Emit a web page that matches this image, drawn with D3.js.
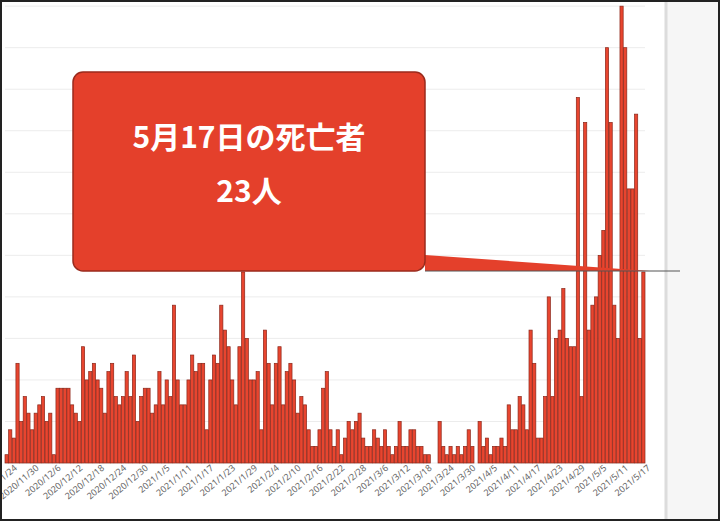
<!DOCTYPE html>
<html><head><meta charset="utf-8">
<script src="https://cdn.jsdelivr.net/npm/d3@7"></script>
<style>body{margin:0;background:#fff}svg{display:block}</style>
</head><body>
<script>
var startDate = "2020-11-23";
var deaths = [1,4,3,12,5,8,6,4,6,7,8,5,6,1,
  9,9,9,9,7,6,5,14,10,11,12,10,9,6,
  11,12,8,7,8,11,8,13,5,8,9,9,6,7,
  11,7,10,8,19,10,7,7,10,13,11,12,12,4,
  10,13,12,19,16,14,10,7,14,23,15,10,10,11,
  4,16,12,7,12,14,7,11,12,10,6,8,7,4,
  2,2,4,9,11,4,2,4,
  1,3,5,4,5,6,3,2,2,4,3,2,4,2,1,2,5,2,2,4,4,2,2,1,1,0,0,5,
  2,1,2,1,2,1,2,4,2,0,5,2,3,1,2,2,3,2,7,4,4,8,7,4,16,12,3,3,8,
  20,8,15,16,21,15,14,14,44,8,41,16,19,20,25,28,50,41,19,15,55,50,33,33,42,15,23];
var yTicks = [0,5,10,15,20,25,30,35,40,45,50,55];
var calloutLines = ["5月17日の死亡者", "23人"];

var W = 720, H = 521;
var svg = d3.select("body").append("svg").attr("width", W).attr("height", H);

var parse = d3.timeParse("%Y-%m-%d");
var d0 = parse(startDate);
var days = deaths.map(function(v, i){ return d3.timeDay.offset(d0, i); });
var fmt = function(d){ return d.getFullYear() + "/" + (d.getMonth()+1) + "/" + d.getDate(); };

var x = d3.scaleBand().domain(days.map(fmt)).range([5, 645]).paddingInner(0.12).paddingOuter(0);
var y = d3.scaleLinear().domain([0, 55.5]).range([463, 2]);

// right side panel
svg.append("rect").attr("x",665).attr("y",0).attr("width",55).attr("height",H).attr("fill","#f6f6f6");
svg.append("line").attr("x1",666).attr("x2",666).attr("y1",0).attr("y2",H).attr("stroke","#dcdcdc").attr("stroke-width",3);

// grid
svg.append("g").selectAll("line").data(yTicks).enter().append("line")
  .attr("x1",5).attr("x2",645).attr("y1",function(d){return y(d);}).attr("y2",function(d){return y(d);})
  .attr("stroke","#ececec").attr("stroke-width",1);

// bars
svg.append("g").selectAll("rect").data(deaths).enter().append("rect")
  .attr("x",function(d,i){return x(fmt(days[i]));})
  .attr("width",x.bandwidth())
  .attr("y",function(d){return y(d);})
  .attr("height",function(d){return y(0)-y(d);})
  .attr("fill","#e8452f").attr("stroke","#8a2619").attr("stroke-width",0.7);

// x axis labels every 6 days
var labels = days.filter(function(d,i){ return (i-1) % 6 === 0; }).map(fmt);
var ax = svg.append("g").attr("transform","translate(0,463)")
  .call(d3.axisBottom(x).tickValues(labels).tickSize(0).tickPadding(4));
ax.select(".domain").remove();
ax.selectAll("text").attr("font-family","Noto Sans, sans-serif").attr("font-size",9).attr("fill","#666")
  .attr("text-anchor","end").attr("dx","0.2em").attr("dy","0.6em").attr("transform","rotate(-40)");

// callout
var c = svg.append("g");
c.append("path").attr("d","M425,255 L650,271 L425,271 Z").attr("fill","#e4402b");
c.append("line").attr("x1",425).attr("x2",680).attr("y1",271).attr("y2",271).attr("stroke","#555").attr("stroke-width",1.2);
c.append("rect").attr("x",73).attr("y",72).attr("width",352).attr("height",199).attr("rx",10)
  .attr("fill","#e4402b").attr("stroke","#9a2a1c").attr("stroke-width",1.5);
c.selectAll("text").data(calloutLines).enter().append("text")
  .attr("x",249).attr("y",function(d,i){return 148 + i*54;})
  .attr("text-anchor","middle").attr("fill","#fff").attr("font-weight","bold")
  .attr("font-size",30).attr("font-family","Noto Sans CJK JP, sans-serif").text(function(d){return d;});

// frame
svg.append("rect").attr("x",1).attr("y",1).attr("width",W-2).attr("height",H-2).attr("fill","none").attr("stroke","#222").attr("stroke-width",2);
</script>
</body></html>
